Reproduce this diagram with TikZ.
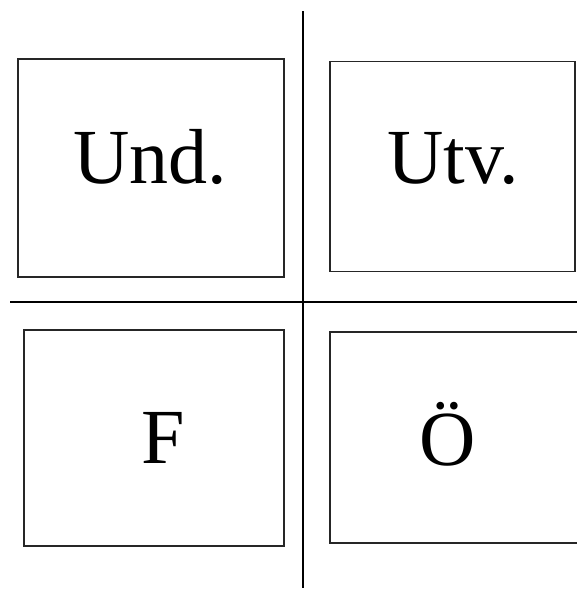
\documentclass[tikz,border=0pt]{standalone}
\usepackage{fontspec}
\setmainfont{Liberation Serif}
\usetikzlibrary{positioning}

\begin{document}
\begin{tikzpicture}[
    x=1pt, y=-1pt,
    box/.style={draw=black!85, line width=1.2pt, inner sep=0pt, outer sep=0pt},
    cross/.style={draw=black, line width=2.2pt},
    lbl/.style={font=\fontsize{78}{80}\selectfont, inner sep=0pt, anchor=base}
]
    \useasboundingbox (0,0) rectangle (577,589);

    % Quadrant boxes
    \node[box, minimum width=266pt, minimum height=218pt] (und) at (151, 168) {};
    \node[box, minimum width=245pt, minimum height=210pt] (utv) at (452.5, 166.5) {};
    \node[box, minimum width=260pt, minimum height=216pt] (f) at (154, 438) {};
    \node[box, minimum width=250pt, minimum height=211pt] (oe) at (455, 437.5) {};

    % Labels
    \node[lbl] (undtxt) at (150, 183) {Und.};
    \node[lbl] (utvtxt) at (453, 183) {Utv.};
    \node[lbl] (ftxt) at (163, 463) {F};
    \node[lbl] (oetxt) at (448, 465) {Ö};

    % Dividing cross
    \coordinate (vtop) at (303, 11);
    \coordinate (vbot) at (303, 588);
    \coordinate (hleft) at (10, 302);
    \coordinate (hright) at (577, 302);
    \draw[cross] (vtop) -- (vbot);
    \draw[cross] (hleft) -- (hright);

\end{tikzpicture}
\end{document}
